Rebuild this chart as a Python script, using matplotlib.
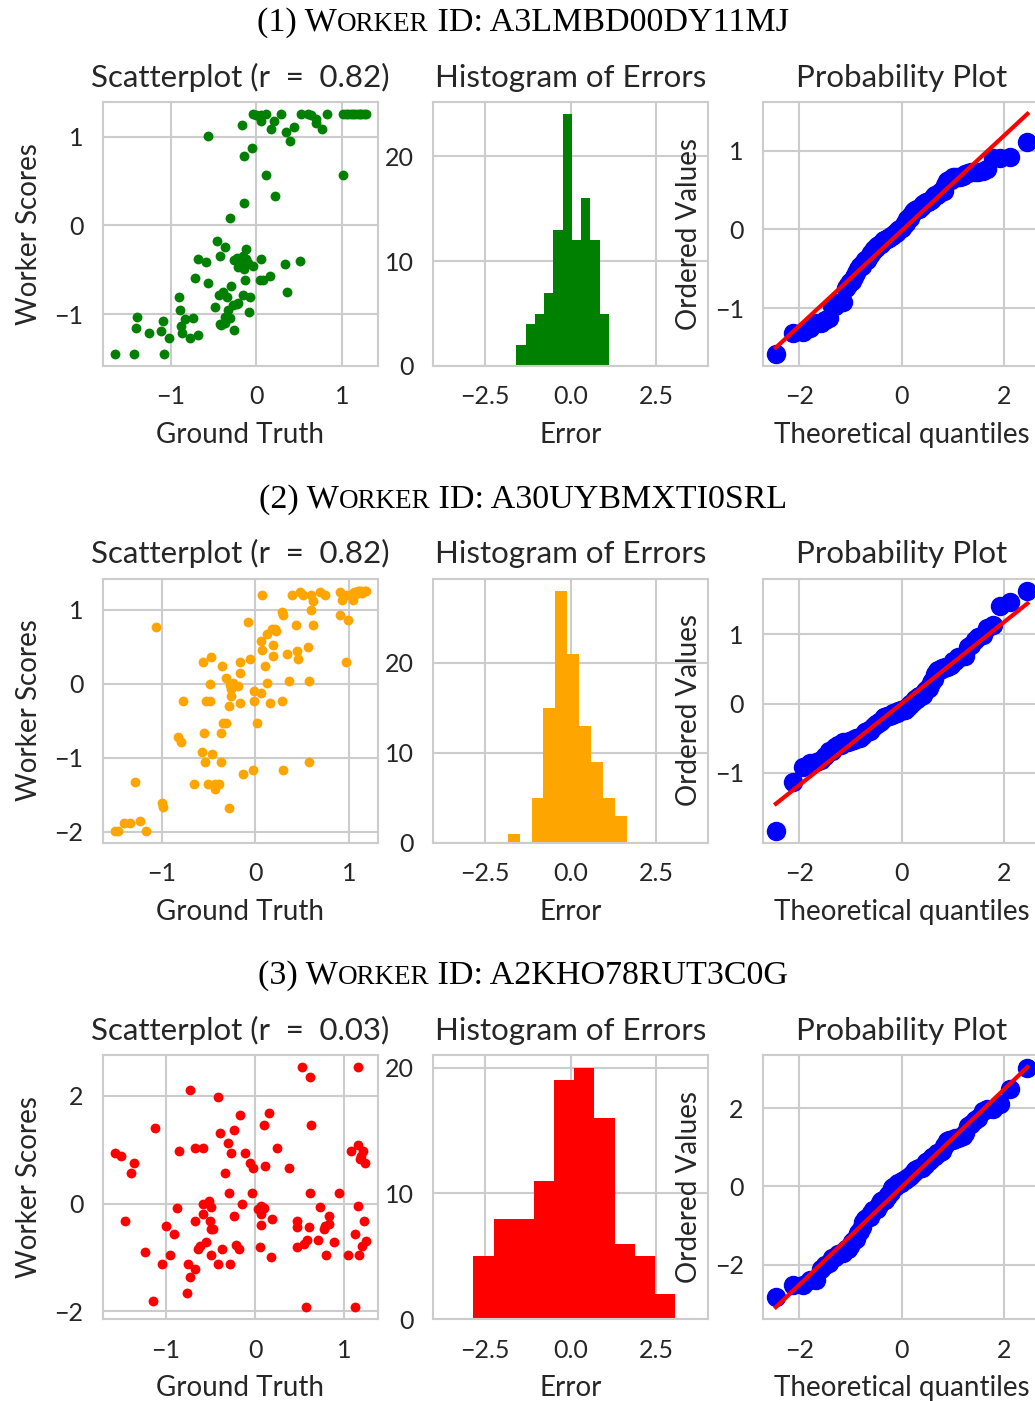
import statistics
import numpy as np
import matplotlib
matplotlib.use("Agg")
import matplotlib.pyplot as plt

# ---------------------------------------------------------------- data
worker_ids = ["A3LMBD00DY11MJ", "A30UYBMXTI0SRL", "A2KHO78RUT3C0G"]
corr_r = [0.82, 0.82, 0.03]
colors = ["green", "orange", "red"]

truth_1 = [-0.04, 0.00, 0.06, 0.11, 0.29, 0.52, 0.61, 0.64, 0.83,
           1.02, 1.05, 1.07, 1.11, 1.13, 1.15, 1.19, 1.21, 1.23, 1.26, 1.28,
           -0.17, 0.06, 0.21, 0.17, 0.35, 0.44, 0.40, 0.70, 0.77,
           -0.57, -0.05, -0.14, 0.11, 1.02, 0.22, -0.14, -0.31,
           -0.46, -0.36, -0.43, -0.68, -0.59, -0.26, -0.23, -0.12, -0.12, -0.16,
           -0.14, -0.04, 0.05, 0.34, 0.51,
           -0.72, -0.57, -0.30, -0.13, 0.04, 0.08, 0.16, 0.36,
           -0.44, -0.39, -0.34, -0.16, -0.07, -0.90,
           -0.89, -0.48, -0.33, -0.27, -0.21, -0.08,
           -1.39, -1.09, -0.83, -0.74, -1.41, -1.26, -1.11, -0.88, -0.87, -0.78,
           -0.68, -1.02, -0.43, -0.37, -0.31, -0.26,
           -1.65, -1.43, -1.08,
           -0.20, -0.10, -0.21, -0.16, -0.37, -0.41, -0.23, 0.04, 0.70]
score_1 = [1.26, 1.25, 1.25, 1.26, 1.26, 1.26, 1.26, 1.25, 1.26,
           1.26, 1.26, 1.26, 1.26, 1.26, 1.26, 1.26, 1.26, 1.26, 1.26, 1.26,
           1.14, 1.18, 1.18, 1.09, 1.06, 1.11, 0.95, 1.16, 1.09,
           1.01, 0.87, 0.79, 0.57, 0.57, 0.33, 0.25, 0.08,
           -0.18, -0.24, -0.35, -0.38, -0.41, -0.39, -0.37, -0.27, -0.38, -0.44,
           -0.49, -0.46, -0.38, -0.43, -0.40,
           -0.59, -0.65, -0.68, -0.62, -0.62, -0.62, -0.57, -0.75,
           -0.79, -0.75, -0.81, -0.79, -0.81, -0.81,
           -0.95, -0.92, -0.95, -0.90, -0.88, -0.98,
           -1.03, -1.08, -1.06, -1.04, -1.16, -1.21, -1.19, -1.14, -1.21, -1.27,
           -1.24, -1.27, -1.11, -1.10, -1.04, -1.18,
           -1.45, -1.45, -1.45,
           -0.42, -0.42, -0.47, -0.34, -1.03, -1.12, -0.89, 1.23, 1.20]

truth_2 = [0.07, 0.39, 0.48, 0.60, 0.62, 0.69, 0.75, 0.91, 0.93, 0.98,
           1.04, 1.06, 1.10, 1.13, 1.17, 1.15, 1.08, 1.11, 1.14, 1.18, 0.51,
           0.59, 0.28, 0.30, 0.90, 0.99, -0.08, 0.43, 0.62, -1.06,
           0.18, 0.21, 0.12, 0.06, 0.07, 0.19, 0.56, 0.44, 0.34, 0.46, 0.19, 0.97,
           -0.56, -0.48, -0.36, -0.17, -0.06, 0.10, -0.16,
           -0.31, -0.49, -0.27, -0.19, -0.26, 0.12, 0.36, 0.57,
           -0.77, -0.53, -0.49, -0.26, -0.28, -0.17, -0.02, -0.01, 0.06, 0.16, 0.28,
           -0.35, -0.31, 0.02, -0.55, -0.37, -0.83, -0.80,
           -0.57, -0.46, -0.54, -0.37, -0.13, -0.03, 0.30, 0.57,
           -1.29, -0.66, -0.51, -0.43, -0.39, -0.43,
           -1.00, -0.99, -0.28,
           -1.41, -1.34, -1.23, -1.50, -1.47, -1.17,
           0.22, -0.24]
score_2 = [1.20, 1.20, 1.24, 1.20, 1.12, 1.24, 1.20, 1.24, 1.13, 1.20,
           1.13, 1.24, 1.26, 1.26, 1.26, 1.24, 1.21, 1.25, 1.23, 1.25, 1.20,
           1.00, 0.97, 0.93, 0.93, 0.86, 0.84, 0.80, 0.80, 0.77,
           0.74, 0.74, 0.67, 0.58, 0.46, 0.53, 0.50, 0.44, 0.40, 0.34, 0.37, 0.30,
           0.30, 0.36, 0.24, 0.30, 0.34, 0.24, 0.14,
           0.08, 0.00, -0.01, -0.03, -0.07, 0.01, 0.04, 0.04,
           -0.23, -0.23, -0.23, -0.16, -0.30, -0.26, -0.09, -0.23, -0.13, -0.26, -0.23,
           -0.53, -0.53, -0.53, -0.66, -0.66, -0.72, -0.79,
           -0.92, -0.95, -1.06, -1.06, -1.22, -1.16, -1.16, -1.06,
           -1.32, -1.35, -1.35, -1.35, -1.35, -1.42,
           -1.61, -1.66, -1.68,
           -1.88, -1.88, -1.85, -1.98, -1.98, -1.98,
           0.71, 0.01]

truth_3 = [0.53, 0.61, 1.15, -0.73, -0.42, -0.17, 0.15, 0.10, 0.63, -1.12,
           -0.39, -0.24, -0.30, 0.24, -1.57, -1.51, -1.36, -1.39, -0.86, -0.67,
           -0.58, -0.27, -0.11, -0.06, -0.02, 0.11, 0.38, -0.34, 1.08, 1.15,
           1.21, 1.18, 1.23, -0.29, -0.04, 0.62, 0.94, -0.59, -0.52, -0.49,
           -0.88, -0.58, -0.15, 0.06, 0.10, 0.07, -0.24, 0.19, 0.73, 0.83,
           1.15, -1.46, -0.67, -0.51, -0.50, -0.47, 0.06, 0.47, 0.47, 0.60,
           0.83, 0.77, 1.22, -1.00, -0.91, 1.12, -0.55, -0.62, -0.64, -0.37,
           -0.21, -0.18, 0.05, 0.58, 0.70, 0.89, 0.55, 0.47, 1.24, 1.20,
           1.17, 1.04, 0.79, -1.24, -0.96, -0.50, 0.18, -1.05, -0.75, -0.68,
           -0.42, -0.28, -0.73, -0.77, -1.15, 0.57, 1.12, 1.19, 0.03, 0.78]
score_3 = [2.53, 2.34, 2.53, 2.10, 1.97, 1.64, 1.68, 1.45, 1.45, 1.40,
           1.31, 1.36, 1.12, 1.03, 0.94, 0.89, 0.75, 0.56, 0.97, 1.03,
           1.03, 0.93, 0.93, 0.75, 0.65, 0.70, 0.65, 0.56, 0.98, 1.08,
           0.98, 0.83, 0.75, 0.19, 0.19, 0.19, 0.19, 0.00, 0.05, -0.06,
           -0.09, -0.20, 0.00, -0.04, -0.09, -0.20, -0.24, -0.28, -0.06, -0.24,
           -0.04, -0.32, -0.32, -0.32, -0.47, -0.47, -0.39, -0.32, -0.43, -0.43,
           -0.37, -0.47, -0.32, -0.42, -0.57, -0.57, -0.71, -0.79, -0.85, -0.85,
           -0.76, -0.84, -0.80, -0.67, -0.67, -0.71, -0.75, -0.80, -0.70, -0.79,
           -0.95, -0.95, -0.95, -0.90, -0.95, -0.95, -0.99, -1.13, -1.13, -1.21,
           -1.13, -1.13, -1.36, -1.65, -1.80, -1.92, -1.92, 0.89, -0.11, -0.42]

# error histogram counts (10 equal bins spanning the error range)
hist_counts_1 = [2, 4, 5, 7, 13, 24, 12, 16, 12, 5]
hist_counts_2 = [1, 0, 5, 15, 28, 21, 13, 9, 5, 3]
hist_counts_3 = [5, 8, 8, 11, 19, 20, 16, 6, 5, 2]

# ticks
scatter_xticks = [[-1, 0, 1], [-1, 0, 1], [-1, 0, 1]]
scatter_yticks = [[-1, 0, 1], [-2, -1, 0, 1], [-2, 0, 2]]
hist_xticks = [-2.5, 0.0, 2.5]
hist_yticks = [0, 10, 20]
prob_xticks = [-2, 0, 2]
prob_yticks = [[-1, 0, 1], [-1, 0, 1], [-2, 0, 2]]

truths = [truth_1, truth_2, truth_3]
scores = [score_1, score_2, score_3]
hist_counts = [hist_counts_1, hist_counts_2, hist_counts_3]

# ---------------------------------------------------------------- style
SANS = ["Lato", "DejaVu Sans"]
SERIF = ["Liberation Serif", "DejaVu Serif"]
TXT = "#262626"
GRID = "#cccccc"
plt.rcParams.update({
    "font.family": SANS,
    "axes.edgecolor": GRID,
    "axes.linewidth": 1.5,
    "axes.grid": True,
    "axes.axisbelow": True,
    "grid.color": GRID,
    "grid.linewidth": 1.5,
    "xtick.color": TXT,
    "ytick.color": TXT,
    "xtick.major.size": 0,
    "ytick.major.size": 0,
    "xtick.major.pad": 14,
    "ytick.major.pad": 14,
    "xtick.labelsize": 18,
    "ytick.labelsize": 18,
    "axes.labelcolor": TXT,
    "axes.labelsize": 20,
    "axes.titlesize": 22.5,
    "axes.titlecolor": TXT,
    "axes.titlepad": 11,
})

W, H = 1035, 1401
fig = plt.figure(figsize=(W / 100, H / 100), dpi=100)


def px_axes(left, top, width, height):
    return fig.add_axes([left / W, 1 - (top + height) / H, width / W, height / H])


nd = statistics.NormalDist()


def probability_plot(ax, values):
    """Normal probability plot with Filliben order-statistic medians."""
    n = len(values)
    osr = np.sort(values)
    m = (np.arange(1, n + 1) - 0.3175) / (n + 0.365)
    m[-1] = 0.5 ** (1.0 / n)
    m[0] = 1 - m[-1]
    osm = np.array([nd.inv_cdf(p) for p in m])
    slope, intercept = np.polyfit(osm, osr, 1)
    ax.plot(osm, osr, "o", color="blue", ms=13, zorder=3)
    ax.plot(osm, slope * osm + intercept, "-", color="red", lw=3, zorder=4)


renderer = fig.canvas.get_renderer()


def smallcaps_title(center_x, baseline_y, parts):
    texts = []
    for s, size in parts:
        t = fig.text(0, 0, s, fontsize=size, family=SERIF, color="black",
                     va="baseline", ha="left")
        texts.append(t)
    widths = [t.get_window_extent(renderer).width for t in texts]
    x = center_x - sum(widths) / 2
    for t, w in zip(texts, widths):
        t.set_position((x / W, 1 - baseline_y / H))
        x += w


ROW_STEP = 476.6
AX_H = 264
XPAD, YPAD = 10, 9
for i in range(3):
    top = 101.9 + i * ROW_STEP
    tr = np.array(truths[i])
    sc = np.array(scores[i])
    err = tr - sc

    smallcaps_title(523, 31 + i * ROW_STEP,
                    [(f"({i + 1}) W", 24.5), ("ORKER", 19.5), (f" ID: {worker_ids[i]}", 24.5)])

    # scatter of worker scores against ground truth
    ax1 = px_axes(102.7, top, 275.5, AX_H)
    ax1.scatter(tr, sc, s=50, color=colors[i], linewidths=0, zorder=3)
    ax1.set_xticks(scatter_xticks[i])
    ax1.set_yticks(scatter_yticks[i])
    ax1.set_title(f"Scatterplot (r\u2002=\u2002{corr_r[i]:.2f})")
    ax1.set_xlabel("Ground Truth", labelpad=XPAD)
    ax1.set_ylabel("Worker Scores", labelpad=YPAD)

    # histogram of errors
    ax2 = px_axes(433.3, top, 274.7, AX_H)
    edges = np.linspace(err.min(), err.max(), 11)
    ax2.hist(edges[:-1], bins=edges, weights=hist_counts[i], color=colors[i])
    ax2.set_xlim(-4, 4)
    ax2.set_xticks(hist_xticks)
    ax2.set_xticklabels([f"{v:.1f}".replace("-", "\u2212") for v in hist_xticks])
    ax2.set_yticks(hist_yticks)
    ax2.set_title("Histogram of Errors")
    ax2.set_xlabel("Error", labelpad=XPAD)

    # normal probability plot of errors
    ax3 = px_axes(763.3, top, 276.7, AX_H)
    probability_plot(ax3, err)
    ax3.set_xticks(prob_xticks)
    ax3.set_yticks(prob_yticks[i])
    ax3.set_title("Probability Plot")
    ax3.set_xlabel("Theoretical quantiles", labelpad=XPAD)
    ax3.set_ylabel("Ordered Values", labelpad=YPAD)

fig.savefig("out.png", dpi=100)
